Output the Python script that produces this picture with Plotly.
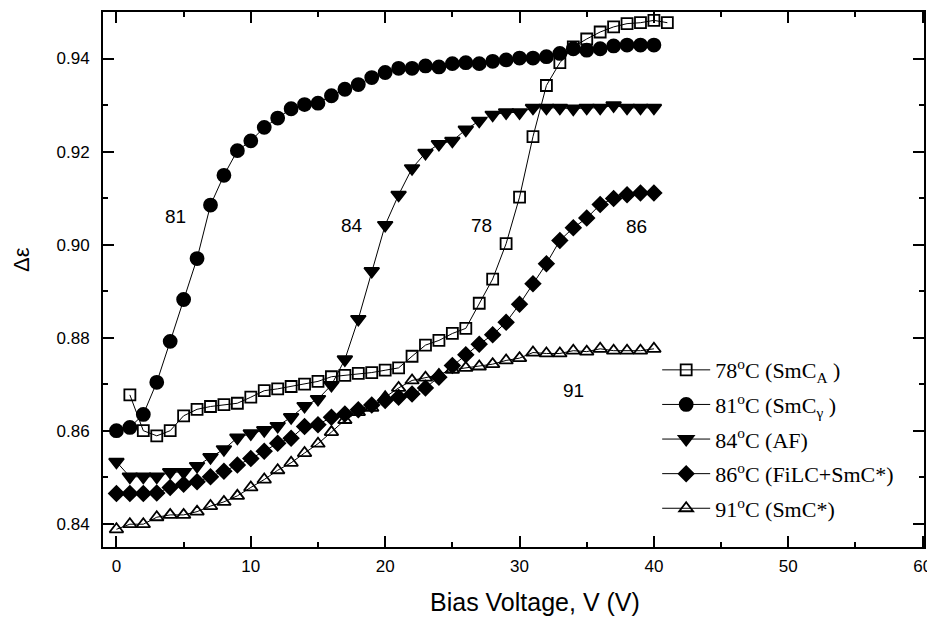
import plotly.graph_objects as go

# ---------------- data ----------------
voltage_78 = list(range(1, 42))
de_78 = [0.8677, 0.8600, 0.8589, 0.8600, 0.8632, 0.8646, 0.8652, 0.8656, 0.8659, 0.8672,
         0.8686, 0.8690, 0.8695, 0.8700, 0.8706, 0.8716, 0.8719, 0.8723, 0.8725, 0.8730,
         0.8735, 0.8760, 0.8784, 0.8794, 0.8809, 0.8820, 0.8874, 0.8926, 0.9002, 0.9102,
         0.9232, 0.9342, 0.9391, 0.9425, 0.9442, 0.9457, 0.9468, 0.9475, 0.9477, 0.9482,
         0.9477]

voltage = list(range(0, 41))
de_81 = [0.8600, 0.8607, 0.8635, 0.8704, 0.8792, 0.8882, 0.8970, 0.9085, 0.9149, 0.9202,
         0.9223, 0.9252, 0.9272, 0.9292, 0.9301, 0.9304, 0.9320, 0.9334, 0.9344, 0.9359,
         0.9370, 0.9379, 0.9379, 0.9384, 0.9382, 0.9389, 0.9391, 0.9389, 0.9394, 0.9397,
         0.9401, 0.9401, 0.9404, 0.9411, 0.9421, 0.9418, 0.9421, 0.9427, 0.9429, 0.9429,
         0.9429]
de_84 = [0.8533, 0.8501, 0.8501, 0.8501, 0.8511, 0.8511, 0.8524, 0.8543, 0.8560, 0.8585,
         0.8594, 0.8601, 0.8610, 0.8629, 0.8653, 0.8668, 0.8698, 0.8753, 0.8840, 0.8943,
         0.9042, 0.9107, 0.9164, 0.9197, 0.9216, 0.9223, 0.9247, 0.9266, 0.9279, 0.9284,
         0.9284, 0.9294, 0.9294, 0.9294, 0.9292, 0.9294, 0.9294, 0.9299, 0.9294, 0.9294,
         0.9294]
de_86 = [0.8465, 0.8465, 0.8465, 0.8466, 0.8478, 0.8485, 0.8490, 0.8501, 0.8513, 0.8526,
         0.8540, 0.8556, 0.8573, 0.8584, 0.8609, 0.8613, 0.8629, 0.8636, 0.8645, 0.8655,
         0.8665, 0.8672, 0.8679, 0.8692, 0.8715, 0.8740, 0.8763, 0.8786, 0.8806, 0.8833,
         0.8872, 0.8916, 0.8959, 0.9009, 0.9036, 0.9057, 0.9086, 0.9099, 0.9107, 0.9111,
         0.9111]
de_91 = [0.8388, 0.8399, 0.8399, 0.8414, 0.8419, 0.8419, 0.8426, 0.8438, 0.8447, 0.8460,
         0.8478, 0.8495, 0.8515, 0.8531, 0.8552, 0.8572, 0.8597, 0.8623, 0.8640, 0.8649,
         0.8672, 0.8692, 0.8708, 0.8714, 0.8720, 0.8731, 0.8735, 0.8738, 0.8743, 0.8751,
         0.8756, 0.8768, 0.8766, 0.8766, 0.8772, 0.8770, 0.8776, 0.8772, 0.8772, 0.8772,
         0.8776]

legend_names = ["78<sup>o</sup>C (SmC<sub>A</sub> )",
                "81<sup>o</sup>C (SmC<sub>γ</sub> )",
                "84<sup>o</sup>C (AF)",
                "86<sup>o</sup>C (FiLC+SmC*)",
                "91<sup>o</sup>C (SmC*)"]

curve_labels = ["81", "84", "78", "86", "91"]
curve_label_x = [4.4, 17.5, 27.2, 38.7, 34.0]
curve_label_y = [0.9061, 0.9041, 0.9041, 0.9040, 0.8686]

x_ticks = [0, 10, 20, 30, 40, 50, 60]
y_ticks = [0.84, 0.86, 0.88, 0.90, 0.92, 0.94]

# ---------------- figure ----------------
series = [
    (voltage_78, de_78, "square-open", 11),
    (voltage, de_81, "circle", 13),
    (voltage, de_84, "triangle-down", 13),
    (voltage, de_86, "diamond", 11.5),
    (voltage, de_91, "triangle-up-open", 12),
]

fig = go.Figure()
for i, ((xs, ys, sym, sz), name) in enumerate(zip(series, legend_names)):
    fig.add_trace(go.Scatter(
        x=xs, y=ys, mode="lines+markers", name=name,
        legendgroup=f"g{i}",
        line=dict(color="black", width=1),
        marker=dict(symbol=sym, size=sz, color="black",
                    line=dict(color="black", width=1.8)),
    ))

for t, x, y in zip(curve_labels, curve_label_x, curve_label_y):
    fig.add_annotation(x=x, y=y, text=t, showarrow=False,
                       font=dict(family="Liberation Sans, Arial", size=19, color="black"))

axis_common = dict(
    showline=True, linecolor="black", linewidth=2, mirror="allticks",
    ticks="inside", ticklen=11, tickwidth=1.5, tickcolor="black",
    showgrid=False, zeroline=False, ticklabeloverflow="allow",
    tickfont=dict(family="Liberation Sans, Arial", size=17, color="black"),
)

fig.update_xaxes(range=[-1, 60.1], tickvals=x_ticks, ticklabelstandoff=3,
                 minor=dict(ticks="inside", ticklen=5, tickwidth=1.5, dtick=5, tickcolor="black"),
                 **axis_common)
fig.update_yaxes(range=[0.835, 0.95], tickvals=y_ticks, tickformat=".2f", ticklabelstandoff=8,
                 minor=dict(ticks="inside", ticklen=5, tickwidth=1.5, dtick=0.01, tickcolor="black"),
                 **axis_common)

fig.add_annotation(xref="paper", yref="paper", x=-0.1, y=0.538, text="Δε",
                   textangle=-90, showarrow=False, xanchor="center", yanchor="middle",
                   font=dict(family="Liberation Sans, Arial", size=22, color="black"))
fig.add_annotation(xref="paper", yref="paper", x=0.526, y=-0.102, text="Bias Voltage, V (V)",
                   showarrow=False, yanchor="middle",
                   font=dict(family="Liberation Sans, Arial", size=25, color="black"))

# the page body adds an 8 px margin, so the figure is 8 px smaller and shifted
fig.update_layout(
    width=927, height=615, autosize=False,
    margin=dict(l=95, r=11, t=2, b=76),
    paper_bgcolor="white", plot_bgcolor="white",
    showlegend=True,
    legend=dict(x=0.675, y=0.37, xanchor="left", yanchor="top",
                bgcolor="rgba(0,0,0,0)", itemwidth=48, tracegroupgap=3,
                font=dict(family="Liberation Serif, Times New Roman", size=22, color="black")),
)

fig.write_html("out.html")
